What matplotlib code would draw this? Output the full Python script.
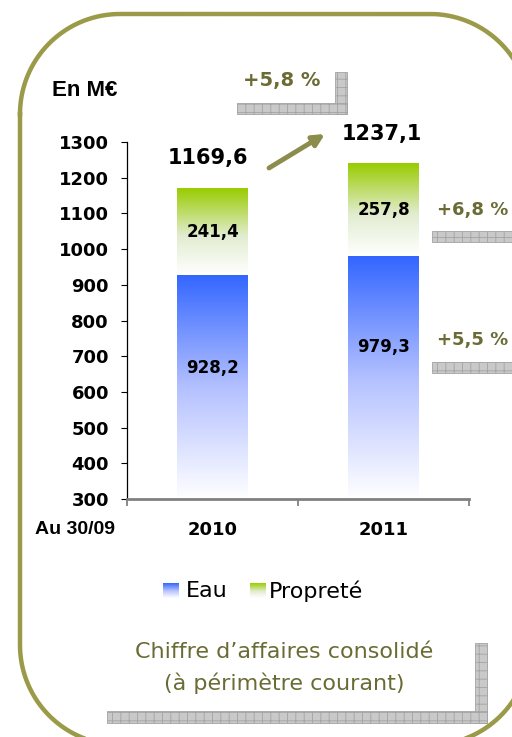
import numpy as np
import matplotlib
matplotlib.use("Agg")
import matplotlib.pyplot as plt
from matplotlib.colors import LinearSegmentedColormap
from matplotlib.patches import Polygon

# data (M€, au 30/09)
years = ["2010", "2011"]
eau = [928.2, 979.3]
proprete = [241.4, 257.8]
yticks = [300, 400, 500, 600, 700, 800, 900, 1000, 1100, 1200, 1300]

totals = [e + p for e, p in zip(eau, proprete)]


def fr(v, d=1):
    return f"{v:.{d}f}".replace(".", ",")


def growth(a, b):
    return "+" + fr((b / a - 1) * 100) + " %"


def rounded_rect(x0, y0, x1, y1, r, n=40):
    # y axis points down here
    xs, ys = [], []
    corners = [(x0 + r, y0 + r, np.pi), (x1 - r, y0 + r, 1.5 * np.pi),
               (x1 - r, y1 - r, 0.0), (x0 + r, y1 - r, 0.5 * np.pi)]
    for cx, cy, a in corners:
        t = np.linspace(a, a + 0.5 * np.pi, n)
        xs.extend(cx + r * np.cos(t))
        ys.extend(cy + r * np.sin(t))
    xs.append(xs[0])
    ys.append(ys[0])
    return xs, ys


olive = "#9a9a48"
olive_txt = "#6b6b35"
plt.rcParams["hatch.linewidth"] = 0.6

fig = plt.figure(figsize=(5.12, 7.37), dpi=100)

# background layer in pixel coords
bg = fig.add_axes([0, 0, 1, 1])
bg.axis("off")

fx, fy = rounded_rect(20, 14, 530, 745, 100)
bg.plot(fx, fy, color=olive, lw=3.2, solid_joinstyle="round")


def shadow(pts):
    bg.add_patch(Polygon(pts, closed=True, fc="#c9c9c9", ec="#a3a3a3",
                         hatch="++", lw=0.6))


shadow([(335, 72), (347, 72), (347, 114), (335, 114)])
shadow([(237, 103), (347, 103), (347, 114), (237, 114)])
shadow([(432, 231), (520, 231), (520, 242), (432, 242)])
shadow([(432, 362), (520, 362), (520, 373), (432, 373)])
shadow([(475, 643), (487, 643), (487, 723), (475, 723)])
shadow([(107, 711), (487, 711), (487, 723), (107, 723)])

bg.text(52, 90, "En M€", fontsize=16, fontweight="bold", family="Liberation Sans",
        va="center", ha="left")
bg.text(75, 529, "Au 30/09", fontsize=14, fontweight="bold", family="Liberation Sans",
        va="center", ha="center")

bg.text(282, 80, growth(totals[0], totals[1]), fontsize=14, fontweight="bold",
        color=olive_txt, ha="center", va="center")
bg.text(437, 210, growth(proprete[0], proprete[1]), fontsize=13, fontweight="bold",
        color=olive_txt, ha="left", va="center")
bg.text(437, 340, growth(eau[0], eau[1]), fontsize=13, fontweight="bold",
        color=olive_txt, ha="left", va="center")

bg.annotate("", xy=(325, 134), xytext=(269, 168),
            arrowprops=dict(arrowstyle="-|>", color="#8c8c4c", lw=3.5,
                            mutation_scale=17, shrinkA=0, shrinkB=0))

bg.text(284, 652, "Chiffre d’affaires consolidé", fontsize=16, color=olive_txt,
        ha="center", va="center")
bg.text(284, 683, "(à périmètre courant)", fontsize=16, color=olive_txt,
        ha="center", va="center")

blue_cm = LinearSegmentedColormap.from_list(
    "b", [(0, "#ffffff"), (0.5, "#b3c0ff"), (1, "#3366ff")])
green_cm = LinearSegmentedColormap.from_list(
    "g", [(0, "#ffffff"), (0.45, "#e2ecd0"), (1, "#99cc00")])
grad = np.linspace(0, 1, 256).reshape(-1, 1)

# legend (manual, gradient squares)
bg.imshow(grad, cmap=blue_cm, origin="lower", extent=[163, 179, 598, 583], aspect="auto")
bg.text(186, 591, "Eau", fontsize=16, va="center", ha="left")
bg.imshow(grad, cmap=green_cm, origin="lower", extent=[250, 266, 598, 583], aspect="auto")
bg.text(269, 591, "Propreté", fontsize=16, va="center", ha="left")
bg.set_xlim(0, 512)
bg.set_ylim(737, 0)

# chart
ax = fig.add_axes([127 / 512, 1 - 499 / 737, 342 / 512, 357 / 737])
ax.set_facecolor("none")
ymin, ymax = 300, 1300
w = 0.415
x = np.arange(len(years))
for i in x:
    ax.imshow(grad, cmap=blue_cm, origin="lower", aspect="auto",
              extent=[i - w / 2, i + w / 2, ymin, eau[i]], zorder=2)
    ax.imshow(grad, cmap=green_cm, origin="lower", aspect="auto",
              extent=[i - w / 2, i + w / 2, eau[i], totals[i]], zorder=2)

ax.set_xlim(-0.5, 1.5)
ax.set_ylim(ymin, ymax)

# labels
blue_lab = [667, 726]
for i in x:
    ax.text(i, blue_lab[i], fr(eau[i]), ha="center", va="center", fontsize=12,
            fontweight="bold", zorder=3)
    ax.text(i, eau[i] + proprete[i] / 2, fr(proprete[i]), ha="center", va="center",
            fontsize=12, fontweight="bold", zorder=3)
    ax.annotate(fr(totals[i]), (i, totals[i]), xytext=(-3 if i == 0 else -1, 22),
                textcoords="offset points", ha="center", va="center", fontsize=15,
                fontweight="bold", annotation_clip=False)

ax.set_yticks(yticks)
ax.set_yticklabels([str(t) for t in yticks], fontsize=13, fontweight="bold")
ax.set_xticks(x)
ax.set_xticklabels(years, fontsize=13, fontweight="bold")
ax.set_xticks([-0.5, 0.5, 1.5], minor=True)
ax.tick_params(axis="x", which="major", length=0, pad=16)
ax.tick_params(axis="x", which="minor", length=5, color="#777777", width=1.2)
ax.tick_params(axis="y", length=4, width=0.8, pad=9)

for s in ["top", "right"]:
    ax.spines[s].set_visible(False)
ax.spines["left"].set_linewidth(0.9)
ax.spines["bottom"].set_color("#808080")
ax.spines["bottom"].set_linewidth(2)

fig.savefig("out.png", dpi=100, facecolor="white")
